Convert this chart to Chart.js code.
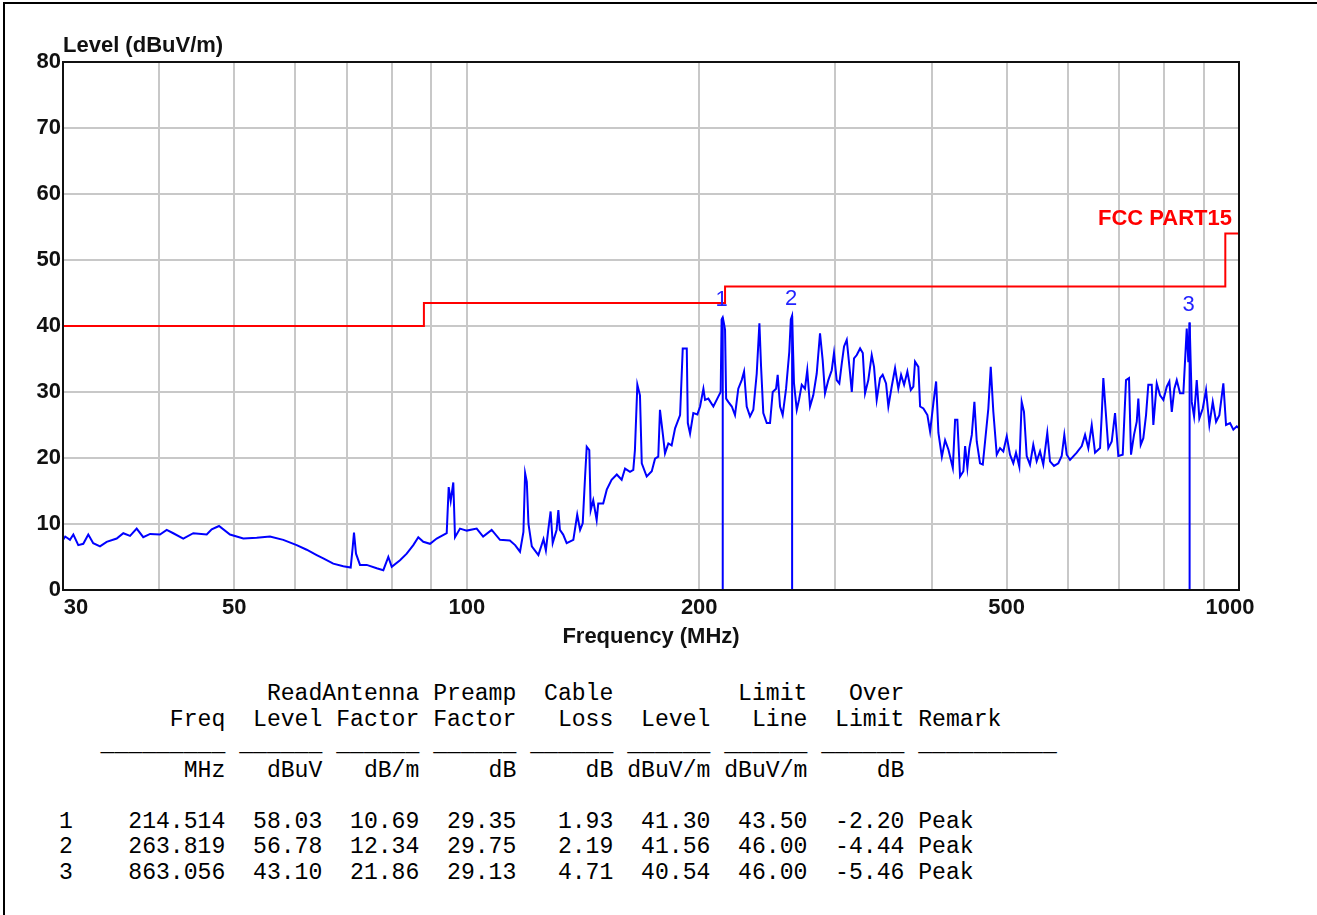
<!DOCTYPE html>
<html>
<head>
<meta charset="utf-8">
<script src="https://cdn.jsdelivr.net/npm/chart.js@4/dist/chart.umd.min.js"></script>
<style>
  html, body { margin: 0; padding: 0; background: #fff; }
  body { width: 1317px; height: 915px; position: relative; overflow: hidden; }
  #frame { position: absolute; left: 3px; top: 2px; width: 1320px; height: 920px;
           border-top: 2px solid #000; border-left: 2px solid #000; }
  #wrap { position: absolute; left: 0; top: 0; width: 1317px; height: 660px; }
  #table { position: absolute; left: 59px; top: 682px; margin: 0;
           font-family: "Liberation Mono", "DejaVu Sans Mono", monospace;
           font-size: 23.1px; line-height: 25.5px; color: #000; white-space: pre; }
</style>
</head>
<body>
<div id="frame"></div>
<div id="wrap"><canvas id="c"></canvas></div>
<pre id="table"></pre>
<script>
// ---- spectrum trace (MHz, dBuV/m) ----
const traceFreq = [
  30.0, 30.2, 30.63, 30.94, 31.40, 31.87, 32.35, 32.83, 33.5, 34.17, 35.21, 35.91, 36.64, 37.37, 38.11, 38.9,
  40.06, 40.87, 41.68, 42.94, 44.24, 46.05, 46.74, 47.77, 49.36, 51.36, 53.45, 55.61, 57.86, 60.22, 62.04,
  63.92, 65.19, 67.16, 69.20, 70.74, 71.17, 71.44, 71.87, 72.73, 74.20, 76.45, 77.97, 79.14, 79.95, 81.95,
  83.60, 85.26, 86.54, 87.84, 89.62, 91.42, 94.19, 94.75, 95.32, 96.06, 96.55, 98.00, 100.0,
  103.0, 105.0, 107.7, 110.4, 113.7, 115.5, 117.2, 118.4, 119.0, 119.6, 120.2, 121.4, 123.8, 125.7, 126.6,
  127.5, 128.4, 129.2, 130.7, 131.4, 132.0, 133.3, 134.7, 137.4, 139.0, 140.2, 141.3, 142.3, 143.0, 144.1,
  144.7, 145.8, 147.3, 148.0, 150.2, 151.8, 154.0, 156.4, 158.7, 160.3, 162.7, 164.3, 165.1, 166.3, 167.6,
  168.5, 171.0, 173.6, 175.3, 177.0, 177.9, 179.4, 180.6, 182.4, 184.2, 186.1, 188.9, 190.4, 192.7, 193.3,
  194.6, 196.5, 198.9,
  200.5, 202.5, 203.5, 205.5, 208.6, 211.7, 213.2, 213.8, 214.5, 215.2, 216.0, 216.7, 218.1, 220.4, 222.5,
  224.7, 227.0, 228.6, 230.4, 232.7, 235.0, 237.4, 239.3, 240.5, 242.1, 244.6, 247.0, 249.0, 251.5, 252.7,
  254.5, 256.5, 259.1, 261.6, 262.8, 263.8, 265.3, 267.5, 269.3, 271.5, 274.1, 276.0, 278.3, 281.0, 283.9,
  286.7, 289.0, 291.0, 293.9, 296.9, 298.9, 301.3, 303.7, 305.9, 308.0, 310.5, 313.6, 315.2, 317.3, 319.9,
  323.1, 325.7, 327.9, 331.1, 334.5, 336.8, 339.5, 342.9, 345.6, 349.1, 351.5, 355.0, 358.6, 362.1, 365.1,
  368.4, 372.0, 375.8, 378.7, 380.6, 384.4, 386.4, 390.2, 394.9, 398.1, 402.0, 405.3, 408.1, 412.3, 416.3,
  420.4,
  426.0, 428.9, 431.8, 435.3, 439.6, 441.9, 444.9, 447.5, 450.8, 454.3, 457.5, 462.0, 465.8, 469.0, 473.6,
  477.0, 480.7, 485.6, 490.4, 495.2, 500.3, 505.2, 510.2, 514.3, 519.4, 523.1, 526.7, 531.0, 536.2, 541.5,
  547.0, 552.5, 557.9, 564.6, 569.2, 576.0, 583.5, 589.4, 594.0, 598.3, 604.2, 616.4, 625.7, 631.9, 638.1,
  644.6, 651.0, 660.8, 664.1, 667.3, 672.1, 677.3, 684.2, 691.0, 697.8, 707.0, 714.0, 720.4, 724.7, 731.2,
  737.2, 740.7, 746.0, 751.8, 757.9, 763.1, 770.9, 774.6, 782.5, 790.2, 798.1, 806.2, 812.5, 818.4, 824.7,
  830.6, 838.8, 847.1, 855.7, 859.8, 863.056, 868.6, 874.6, 881.6, 888.5, 897.6, 906.4, 915.4, 924.7, 933.9,
  943.1, 954.4, 962.1, 973.7, 983.3, 993.3, 1000
];
const traceLevel = [
  7.6, 8.1, 7.6, 8.4, 6.8, 7.0, 8.4, 7.1, 6.6, 7.3, 7.8, 8.6, 8.2, 9.3, 8.0, 8.5,
  8.4, 9.1, 8.6, 7.8, 8.6, 8.4, 9.2, 9.7, 8.4, 7.8, 7.9, 8.1, 7.6, 6.8, 6.1,
  5.3, 4.8, 4.0, 3.6, 3.4, 6.5, 8.7, 5.5, 3.8, 3.8, 3.3, 3.0, 5.0, 3.5, 4.5,
  5.5, 6.8, 8.0, 7.3, 7.0, 7.8, 8.6, 15.6, 13.5, 16.3, 8.0, 9.3, 9.0,
  9.3, 8.1, 9.1, 7.6, 7.5, 6.8, 5.8, 8.8, 17.7, 16.4, 10.0, 6.6, 5.3, 7.7, 6.0,
  9.1, 11.9, 7.1, 9.1, 12.1, 9.1, 8.4, 7.1, 7.6, 11.4, 9.1, 10.1, 17.2, 21.7, 21.2,
  12.1, 13.6, 10.6, 13.1, 13.1, 15.2, 16.7, 17.5, 16.7, 18.4, 17.9, 18.2, 21.2, 31.1, 29.5,
  19.2, 17.2, 18.0, 19.9, 20.2, 27.3, 23.7, 20.7, 22.2, 21.9, 24.5, 26.5, 36.6, 36.6, 25.3,
  23.7, 26.8, 26.6,
  27.8, 30.5, 28.8, 29.0, 27.8, 29.3, 30.0, 41.0, 41.3, 40.5, 39.4, 29.0, 28.5, 27.8, 26.5,
  30.5, 31.8, 33.1, 27.8, 26.3, 27.3, 32.8, 40.4, 33.8, 26.8, 25.3, 25.3, 30.0, 30.5, 32.6,
  27.8, 26.5, 30.5, 36.1, 41.0, 41.56, 31.3, 27.3, 28.8, 31.1, 30.5, 33.3, 27.8, 29.5, 32.8,
  38.9, 34.8, 29.8, 31.8, 33.3, 35.9, 31.8, 31.3, 34.3, 36.9, 37.9, 32.8, 30.0, 35.1, 35.6,
  36.6, 35.9, 29.8, 31.8, 35.6, 33.8, 28.8, 32.1, 32.6, 31.3, 27.8, 30.8, 33.6, 30.5, 32.6,
  31.1, 33.1, 30.3, 30.8, 34.6, 33.8, 27.8, 27.5, 26.5, 24.0, 28.3, 31.6, 23.8, 20.2, 22.7,
  21.3,
  18.5, 25.8, 25.8, 17.2, 18.0, 21.8, 18.5, 21.5, 23.5, 28.5, 22.5, 19.2, 19.0, 22.5, 27.5,
  33.8, 27.0, 20.5, 21.5, 21.0, 23.3, 20.5, 19.2, 20.8, 18.7, 28.5, 27.0, 20.3, 19.0, 22.0,
  19.5, 21.0, 19.0, 23.8, 19.5, 18.8, 19.2, 20.3, 23.5, 20.5, 19.7, 20.8, 21.8, 23.5, 21.5,
  25.0, 20.8, 21.5, 26.5, 32.1, 27.0, 21.5, 22.5, 26.8, 20.3, 20.5, 31.8, 32.1, 20.5, 23.5,
  25.5, 29.0, 22.0, 23.0, 26.5, 31.1, 31.1, 25.0, 31.3, 29.5, 28.8, 30.8, 31.6, 27.0, 30.5,
  31.8, 29.8, 29.8, 39.6, 34.5, 40.54, 28.5, 26.3, 31.8, 26.0, 27.5, 30.3, 25.0, 28.5, 25.5,
  26.5, 31.3, 25.0, 25.3, 24.3, 24.8, 24.5
];

// ---- FCC Part 15 limit line ----
const limitFreq  = [30, 88, 88, 216, 216, 960, 960, 1000];
const limitLevel = [40, 40, 43.5, 43.5, 46, 46, 54, 54];
const limitName = 'FCC PART15';

// ---- axes ----
const xGridValues = [30, 40, 50, 60, 70, 80, 90, 100, 200, 300, 400, 500, 600, 700, 800, 900, 1000];
const xTickLabels = [30, 50, 100, 200, 500, 1000];
const yTickLabels = [0, 10, 20, 30, 40, 50, 60, 70, 80];
const xTitle = 'Frequency (MHz)';
const yTitle = 'Level (dBuV/m)';

// ---- marker table ----
const markerNo      = [1, 2, 3];
const markerFreq    = [214.514, 263.819, 863.056];
const readLevel     = [58.03, 56.78, 43.10];
const antennaFactor = [10.69, 12.34, 21.86];
const preampFactor  = [29.35, 29.75, 29.13];
const cableLoss     = [1.93, 2.19, 4.71];
const markerLevel   = [41.30, 41.56, 40.54];
const limitLine     = [43.50, 46.00, 46.00];
const overLimit     = [-2.20, -4.44, -5.46];
const remark        = ['Peak', 'Peak', 'Peak'];

// ---- table text ----
const head = [
  '               ReadAntenna Preamp  Cable         Limit   Over',
  '        Freq  Level Factor Factor   Loss  Level   Line  Limit Remark',
  '   _________ ______ ______ ______ ______ ______ ______ ______ __________',
  '         MHz   dBuV   dB/m     dB     dB dBuV/m dBuV/m     dB',
  ''
];
const rows = markerNo.map((n, i) =>
  String(n).padEnd(2) +
  markerFreq[i].toFixed(3).padStart(10) + ' ' +
  readLevel[i].toFixed(2).padStart(6) + ' ' +
  antennaFactor[i].toFixed(2).padStart(6) + ' ' +
  preampFactor[i].toFixed(2).padStart(6) + ' ' +
  cableLoss[i].toFixed(2).padStart(6) + ' ' +
  markerLevel[i].toFixed(2).padStart(6) + ' ' +
  limitLine[i].toFixed(2).padStart(6) + ' ' +
  overLimit[i].toFixed(2).padStart(6) + ' ' + remark[i]);
document.getElementById('table').textContent = head.concat(rows).join('\n');

// ---- chart ----
const xLabelShift = [13, 0, 0, 0, 0, -9];
const labelPlugin = {
  id: 'labels',
  afterDraw(chart) {
    const { ctx, chartArea: a, scales: { x, y } } = chart;
    ctx.save();
    ctx.strokeStyle = '#111';
    ctx.lineWidth = 2;
    ctx.strokeRect(a.left, a.top, a.right - a.left, a.bottom - a.top);

    ctx.fillStyle = '#111';
    ctx.font = 'bold 22px "Liberation Sans", Arial, sans-serif';
    ctx.textAlign = 'right';
    ctx.textBaseline = 'middle';
    yTickLabels.forEach(v => ctx.fillText(String(v), a.left - 2, y.getPixelForValue(v)));
    ctx.textAlign = 'center';
    xTickLabels.forEach((v, i) => ctx.fillText(String(v), x.getPixelForValue(v) + xLabelShift[i], a.bottom + 18));
    ctx.fillText(xTitle, (a.left + a.right) / 2, a.bottom + 47);
    ctx.textAlign = 'left';
    ctx.fillText(yTitle, a.left, a.top - 16);

    ctx.fillStyle = '#ff0000';
    ctx.textAlign = 'right';
    ctx.fillText(limitName, a.right - 7, y.getPixelForValue(limitLevel[limitLevel.length - 1]) - 15);

    ctx.fillStyle = '#2323ff';
    ctx.font = '22px "Liberation Sans", Arial, sans-serif';
    ctx.textAlign = 'center';
    markerNo.forEach((n, i) => ctx.fillText(String(n), x.getPixelForValue(markerFreq[i]) - 1,
                                             y.getPixelForValue(markerLevel[i]) - 17));
    ctx.restore();
  }
};

const markerSets = markerNo.map((n, i) => ({
  data: [{ x: markerFreq[i], y: 0 }, { x: markerFreq[i], y: markerLevel[i] }],
  borderColor: '#0000ff', borderWidth: 2, pointRadius: 0
}));

new Chart(document.getElementById('c'), {
  type: 'line',
  data: {
    datasets: [
      { data: limitFreq.map((f, i) => ({ x: f, y: limitLevel[i] })),
        borderColor: '#ff0000', borderWidth: 2, pointRadius: 0, tension: 0 },
      { data: traceFreq.map((f, i) => ({ x: f, y: traceLevel[i] })),
        borderColor: '#0000ff', borderWidth: 2, pointRadius: 0, tension: 0 },
      ...markerSets
    ]
  },
  options: {
    responsive: true,
    maintainAspectRatio: false,
    animation: false,
    devicePixelRatio: 1,
    layout: { padding: { left: 63, top: 62, right: 78, bottom: 70 } },
    plugins: { legend: { display: false }, tooltip: { enabled: false } },
    scales: {
      x: {
        type: 'logarithmic', min: 30, max: 1000,
        afterBuildTicks: s => { s.ticks = xGridValues.map(v => ({ value: v })); },
        ticks: { display: false },
        grid: { color: '#c8c8c8', lineWidth: 2, drawTicks: false },
        border: { display: false }
      },
      y: {
        type: 'linear', min: 0, max: 80,
        afterBuildTicks: s => { s.ticks = yTickLabels.map(v => ({ value: v })); },
        ticks: { display: false },
        grid: { color: '#c8c8c8', lineWidth: 2, drawTicks: false },
        border: { display: false }
      }
    }
  },
  plugins: [labelPlugin]
});
</script>
</body>
</html>
